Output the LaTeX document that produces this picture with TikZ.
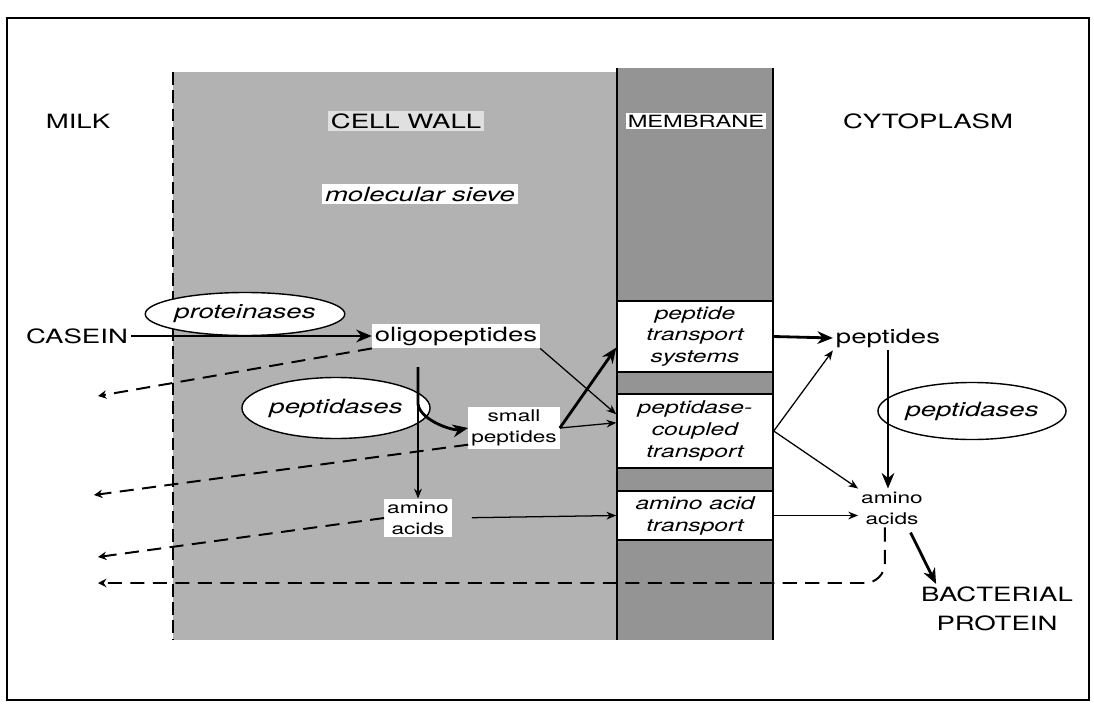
\documentclass[tikz,border=0pt]{standalone}
\usepackage{fontspec}
\setmainfont{TeX Gyre Heros}[FakeStretch=1.4]
\usepackage{tikz}
\usetikzlibrary{positioning,arrows.meta,shapes.geometric}

\tikzset{
  zone/.style={inner sep=2pt, font=\fontsize{14}{17}\selectfont},
  species/.style={fill=white, inner sep=2pt, align=center, font=\fontsize{14}{17}\selectfont},
  smallspecies/.style={fill=white, inner sep=2pt, align=center, font=\fontsize{11.5}{15}\selectfont},
  enzyme/.style={ellipse, draw, line width=1pt, fill=white, inner sep=0pt, font=\itshape\fontsize{14}{17}\selectfont},
  carrier/.style={rectangle, draw, line width=1pt, fill=white, minimum width=3.9cm, inner sep=0pt, align=center, font=\itshape\fontsize{12.5}{15.6}\selectfont},
  heavyarrow/.style={line width=2pt, -{Stealth[length=11pt,width=9pt]}},
  lightarrow/.style={line width=0.9pt, -{Stealth[length=7pt,width=5.5pt]}},
  leakarrow/.style={line width=1.4pt, dash pattern=on 10pt off 6pt, -{Stealth[length=6pt,width=6pt]}},
}

\begin{document}
\begin{tikzpicture}[->, >=Stealth, x=0.025cm, y=-0.025cm]
  \useasboundingbox (0,0) rectangle (1094,705);
  % frame and layers
  \draw[-, line width=1pt] (7,18) rectangle (1089,700);
  \fill[black!30] (173,72) rectangle (617,640);
  \fill[black!42] (617,68) rectangle (773,640);
  \draw[-, line width=1.4pt, dash pattern=on 9pt off 4pt] (173,72) -- (173,640);
  \draw[-, line width=0.9pt] (617,68) -- (617,640);
  \draw[-, line width=0.9pt] (773,68) -- (773,640);

  % headings
  \node[zone] (milk) at (78,121) {MILK};
  \node[zone, fill=black!12] (wall) at (406,121) {CELL WALL};
  \node[zone, fill=white, inner sep=1pt, font=\fontsize{12}{14}\selectfont] (membrane) at (696,121) {MEMBRANE};
  \node[zone] (cyto) at (928,121) {CYTOPLASM};
  \node[species, font=\itshape\fontsize{14}{17}\selectfont] (sieve) at (420,194) {molecular sieve};

  % enzymes
  \node[enzyme, minimum width=4.175cm, minimum height=1.075cm] (prot) at (245,314) {proteinases};
  \node[enzyme, minimum width=4.05cm, minimum height=1.525cm] (pepL) at (336,408) {peptidases};
  \node[enzyme, minimum width=4cm, minimum height=1.425cm] (pepE) at (972,411) {peptidases};

  % substrates
  \node[zone] (casein) at (77,336) {CASEIN};
  \node[species] (oligo) at (456,336) {oligopeptides};
  \node[smallspecies] (small) at (514,428) {small\\peptides};
  \node[smallspecies] (aaL) at (418,518) {amino\\acids};
  \node[species, fill=none] (pepR) at (888,338) {peptides};
  \node[smallspecies, fill=none] (aaR) at (892,508) {amino\\acids};
  \node[zone, align=center, font=\fontsize{14}{20.5}\selectfont] (bact) at (997,609) {BACTERIAL\\PROTEIN};

  % membrane carriers
  \node[carrier, minimum height=1.775cm] (pts) at (695,336.5) {peptide\\transport\\systems};
  \node[carrier, minimum height=1.85cm] (pdc) at (695,431) {peptidase-\\coupled\\transport};
  \node[carrier, minimum height=1.225cm] (aat) at (695,515.5) {amino acid\\transport};

  % free ends
  \coordinate (out1) at (98,396);
  \coordinate (out2) at (94,495);
  \coordinate (out3) at (98,557);
  \coordinate (out4) at (98,583);
  \coordinate (cleave) at (418,367);
  \coordinate (branch) at (418,404);

  \path
    (casein) edge[heavyarrow] (oligo)
    (oligo.south west) edge[leakarrow] (out1)
    (small.200) edge[leakarrow] (out2)
    (aaL.west) edge[leakarrow] (out3)
    (cleave) edge[lightarrow] (aaL.north)
    (oligo.south east) edge[lightarrow] (pdc.168)
    (small.east) edge[heavyarrow] (pts.188)
    (small.east) edge[lightarrow] (pdc.174)
    (aaL.east) edge[lightarrow, shorten <=0.5cm] (aat.west)
    (pts.east) edge[heavyarrow] (pepR.west)
    (pdc.east) edge[lightarrow] (pepR.south west)
    (pdc.east) edge[lightarrow] (aaR.north west)
    (aat.east) edge[lightarrow] (aat.east -| aaR.west)
    (pepR.south) edge[heavyarrow] (pepR.south |- aaR.north);
  \draw[heavyarrow] (cleave) -- (branch) .. controls +(2,16) and +(-16,3) .. (small.west);
  \draw[heavyarrow, shorten <=4pt] ([xshift=0.4cm]aaR.south) -- ([xshift=0.45cm]bact.north west);
  \draw[leakarrow, rounded corners=0.5cm] (aaR.250) |- (out4);
\end{tikzpicture}
\end{document}
